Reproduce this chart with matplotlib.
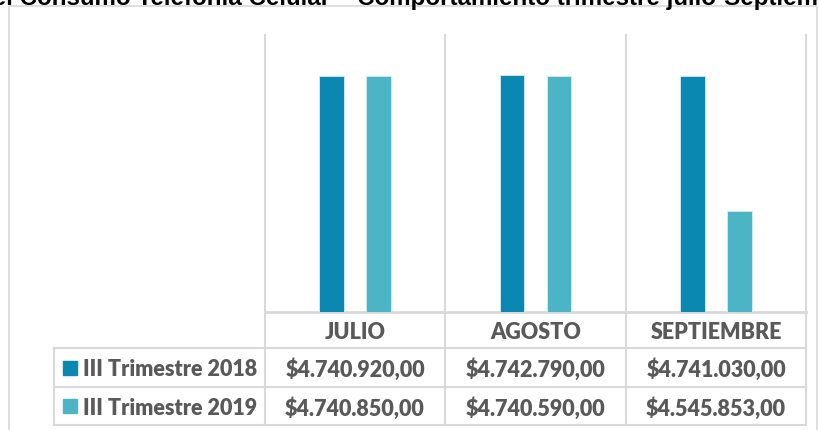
import matplotlib
matplotlib.use("Agg")
import matplotlib.pyplot as plt
from matplotlib.patches import Rectangle
from matplotlib.lines import Line2D

# ---- data ----
categories = ["JULIO", "AGOSTO", "SEPTIEMBRE"]
series_names = ["III Trimestre 2018", "III Trimestre 2019"]
values_2018 = [4740920.00, 4742790.00, 4741030.00]
values_2019 = [4740850.00, 4740590.00, 4545853.00]
title_text = "del Consumo Telefonía Celular – Comportamiento trimestre julio-Septiembre"

colors = ["#0B88B2", "#4BB5C6"]
grid_c = "#D9D9D9"
text_c = "#595959"
W, H = 820, 431

def fmt(v):
    s = f"{v:,.2f}"  # 4,740,920.00
    s = s.replace(",", "X").replace(".", ",").replace("X", ".")
    return "$" + s

fig = plt.figure(figsize=(W / 100, H / 100), dpi=100)

# overlay axes in pixel coordinates for layout items
ov = fig.add_axes([0, 0, 1, 1])
ov.set_xlim(0, W)
ov.set_ylim(H, 0)
ov.axis("off")

# outer chart border
ov.add_patch(Rectangle((9, 7), 808, 440, fill=False, edgecolor=grid_c, lw=1.2, clip_on=False))

# title (cut off at top)
fig.text(-22 / W, 1 - 4.5 / H, title_text, ha="left", va="baseline",
         fontsize=17.4, fontweight="bold", family="Liberation Sans", color="black")

# plot area
x_left, x_right, y_top, y_base = 265, 806, 36, 313.3
ax = fig.add_axes([x_left / W, 1 - y_base / H, (x_right - x_left) / W, (y_base - y_top) / H])
ax.set_zorder(2)
ax.patch.set_alpha(0)
xs = list(range(len(categories)))
off, bw = 0.13, 0.138
ax.bar([x - off for x in xs], values_2018, width=bw, color=colors[0], edgecolor="#D6EEF4", lw=0.6)
ax.bar([x + off for x in xs], values_2019, width=bw, color=colors[1], edgecolor="#D6EEF4", lw=0.6)
ax.set_xlim(-0.5, len(categories) - 0.5)
ax.set_ylim(4400000, 4800000)
ax.set_xticks([])
ax.set_yticks([])
for s in ax.spines.values():
    s.set_visible(False)

# table geometry
col_x = [265, 445, 626, 806]
row_y = [313.3, 349, 388, 426.5]
leg_left = 54
lw = 1.5
for x in col_x:
    ov.add_line(Line2D([x, x], [y_top, row_y[-1]], color=grid_c, lw=lw))
ov.add_line(Line2D([col_x[0], col_x[-1]], [row_y[0], row_y[0]], color=grid_c, lw=2))
for y in row_y[1:]:
    ov.add_line(Line2D([leg_left, col_x[-1]], [y, y], color=grid_c, lw=lw))
ov.add_line(Line2D([leg_left, leg_left], [row_y[1], row_y[-1]], color=grid_c, lw=lw))

fam = ["Lato", "DejaVu Sans"]
fs = 15.5
wt = "heavy"
for i, c in enumerate(categories):
    cx = (col_x[i] + col_x[i + 1]) / 2
    ov.text(cx, (row_y[0] + row_y[1]) / 2 + 1, c, ha="center", va="center",
            fontsize=fs, fontweight=wt, family=fam, color=text_c)

all_vals = [values_2018, values_2019]
for r, (name, vals) in enumerate(zip(series_names, all_vals)):
    yc = (row_y[r + 1] + row_y[r + 2]) / 2
    ov.add_patch(Rectangle((63, yc - 7), 14, 14, color=colors[r]))
    ov.text(83, yc + 1, name, ha="left", va="center", fontsize=fs, fontweight=wt,
            family=fam, color=text_c)
    for i, v in enumerate(vals):
        cx = (col_x[i] + col_x[i + 1]) / 2
        ov.text(cx, yc + 1, fmt(v), ha="center", va="center", fontsize=fs,
                fontweight=wt, family=fam, color=text_c)

fig.savefig("out.png", dpi=100)
